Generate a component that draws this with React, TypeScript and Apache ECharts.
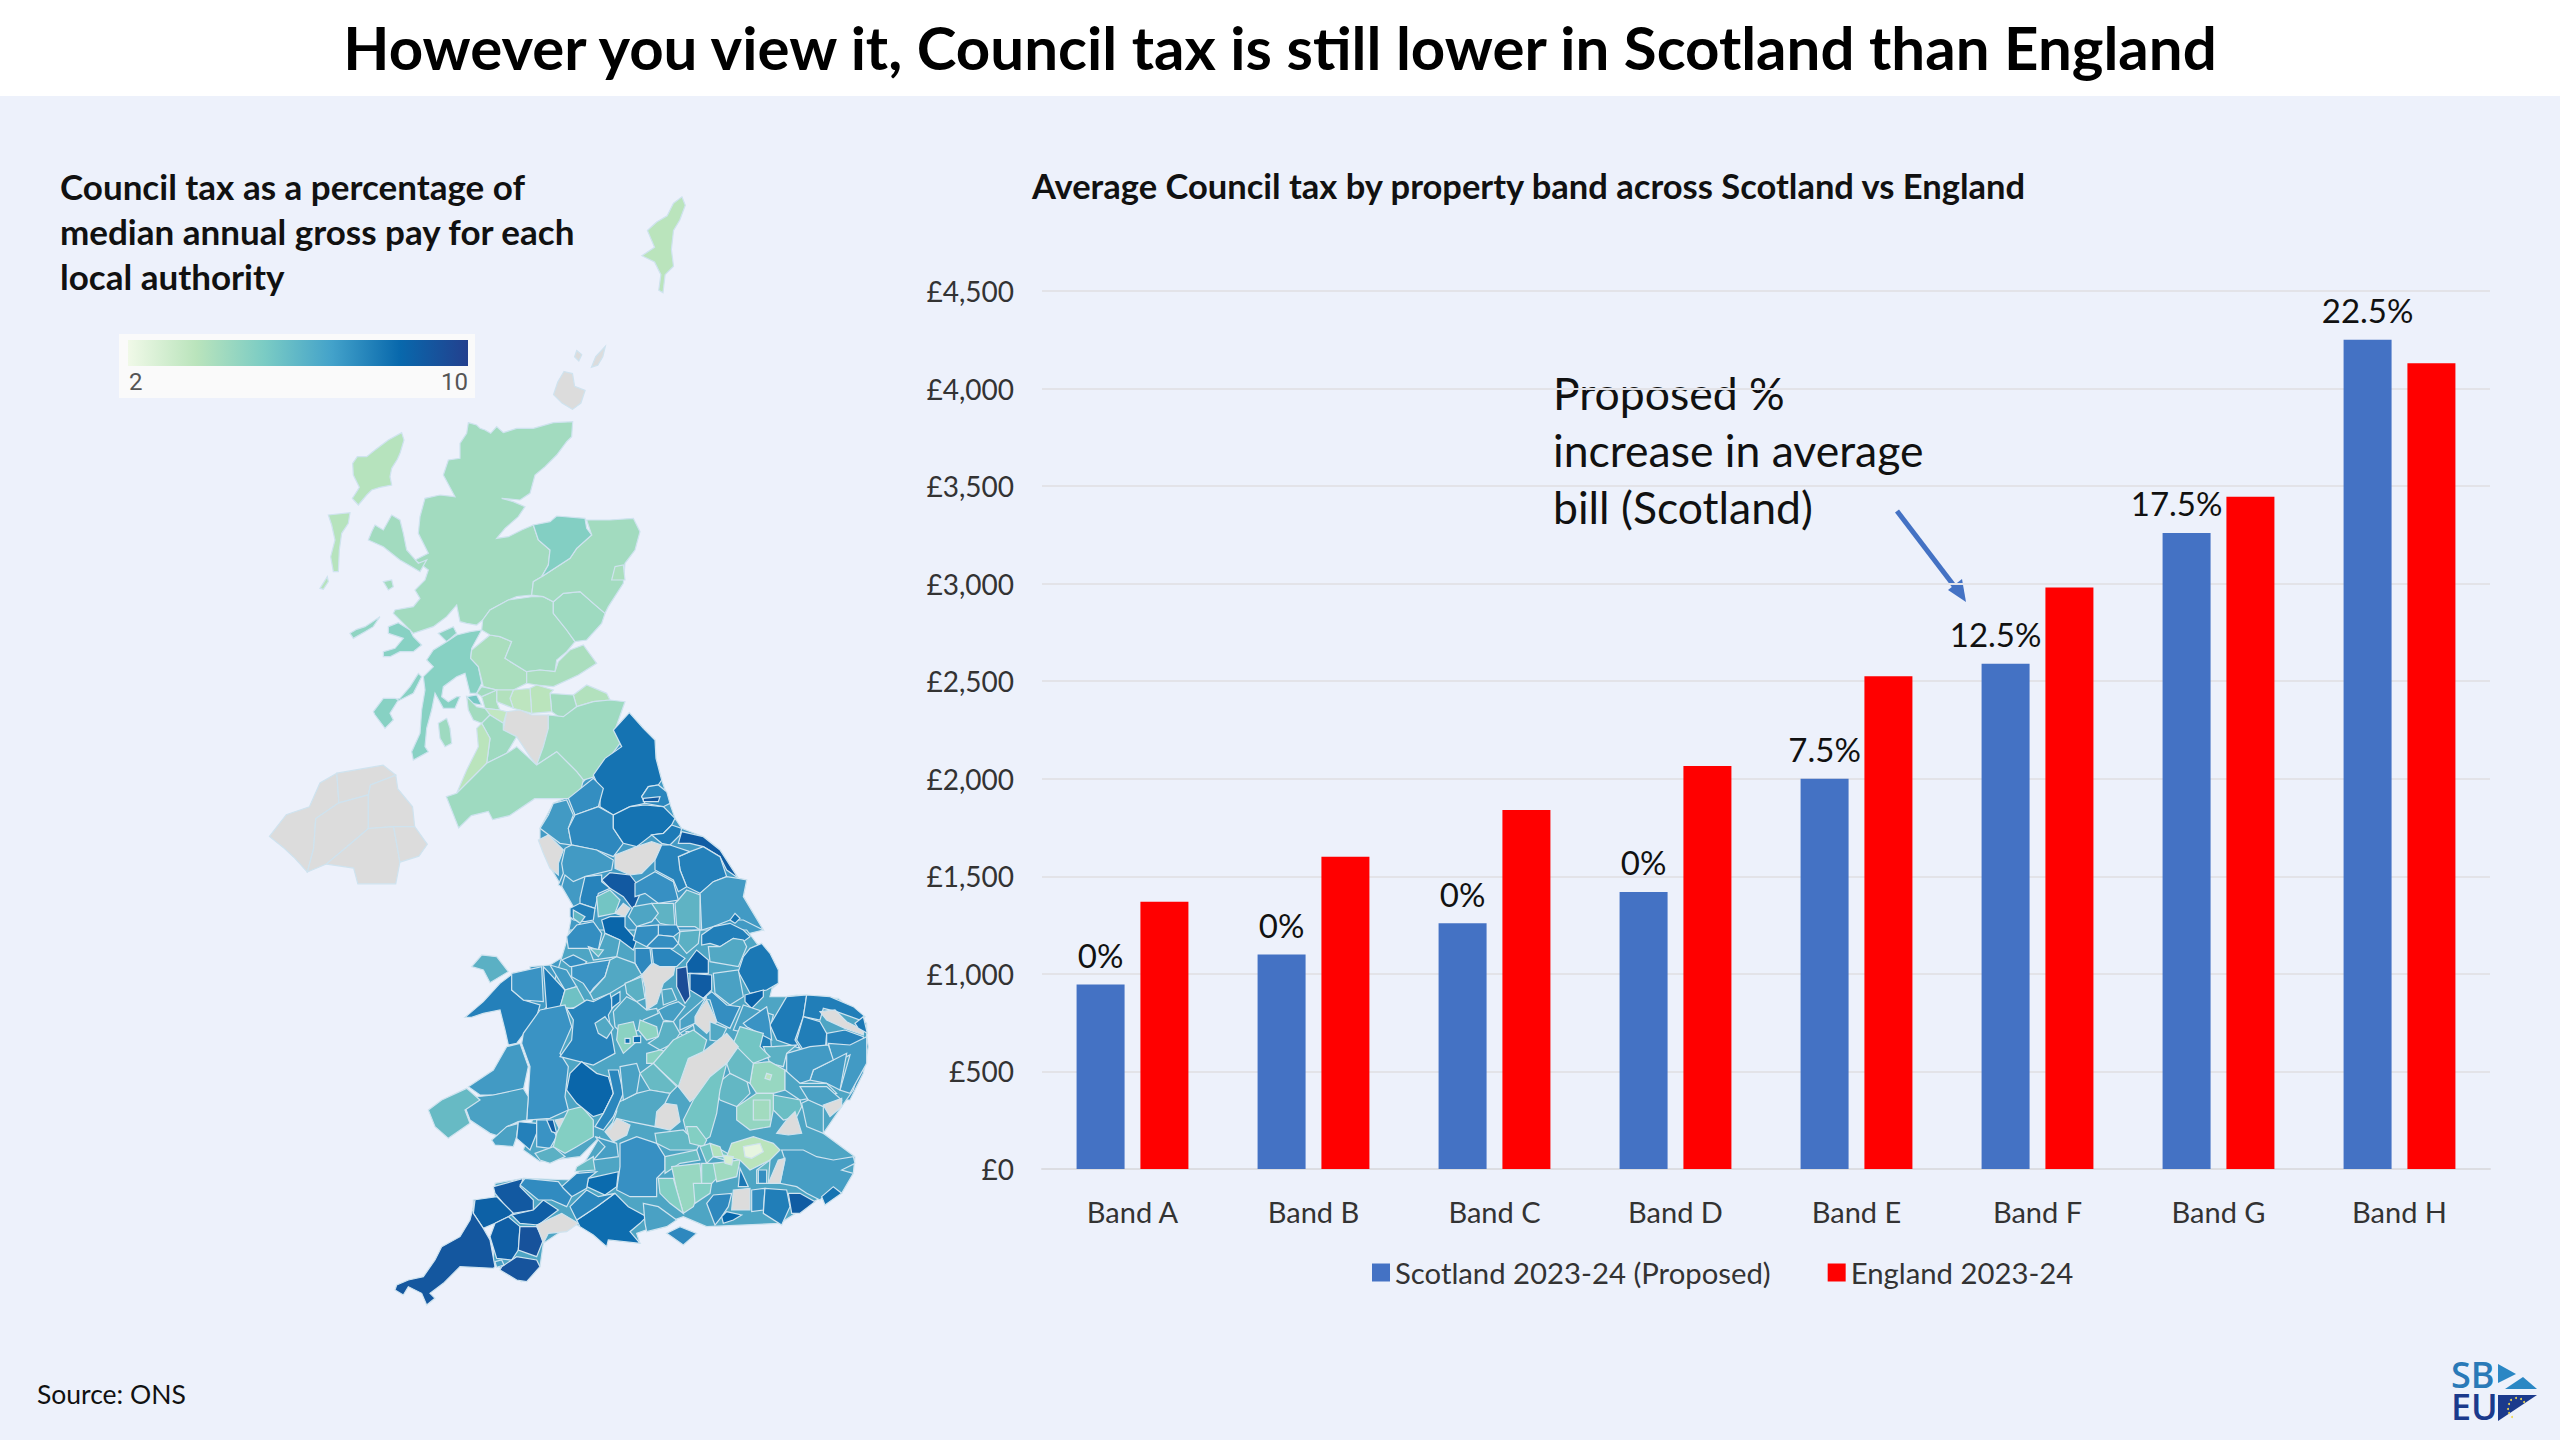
import React, { useEffect, useRef } from "react";
import * as echarts from "echarts";

const BANDS = ["Band A", "Band B", "Band C", "Band D", "Band E", "Band F", "Band G", "Band H"];
const SCOTLAND_VALUES = [945, 1100, 1260, 1420, 2000, 2590, 3260, 4250];
const ENGLAND_VALUES = [1370, 1600, 1840, 2065, 2525, 2980, 3445, 4130];
const INCREASE_LABELS = ["0%", "0%", "0%", "0%", "7.5%", "12.5%", "17.5%", "22.5%"];
const LABEL_NUDGE = [0, 0, 0, 0, 0, -10, -10, 0];
const FONT = "Lato";

type Region = [number | null, number[]];

const ISLES_TRACE: Region[] = [
  [3.6, [1050,40,1058,60,1045,95,1030,120,1025,165,1030,205,1010,225,1005,268,995,262,1000,225,985,195,955,180,985,160,968,120,990,100,1015,85,1030,55]],
  [null, [770,455,790,460,795,490,820,500,810,530,790,545,765,530,745,510,755,480]],
  [null, [800,405,812,415,805,430,795,420]],
  [null, [845,420,868,395,862,420,850,440,835,445]],
];

const NORTHERN_IRELAND_TRACE: Region[] = [
  [null, [70,345,110,290,165,270,190,210,230,185,235,260,180,300,175,375,160,435,130,400,105,375]],
  [null, [230,185,340,165,370,190,310,215,305,240,235,260]],
  [null, [235,260,305,240,305,325,250,375,205,415,160,435,175,375,180,300]],
  [null, [310,215,370,190,375,225,410,270,415,320,365,320,305,325,305,240]],
  [null, [250,375,305,325,365,320,375,380,380,410,370,465,280,465,270,425,205,415]],
  [null, [365,320,415,320,445,365,425,395,380,410,375,380]],
];

const SCOTLAND_TRACE: Region[] = [
  [3.7, [305,98,312,120,300,160,292,178,275,205,270,230,275,255,240,262,215,270,200,285,175,315,157,295,172,272,178,262,160,225,158,190,172,170,200,170,225,150,265,120]],
  [3.7, [85,345,150,338,145,370,125,400,118,450,115,515,100,515,92,470,105,420,95,375]],
  [3.7, [60,565,82,530,85,545,70,568]],
  [4.2, [505,68,530,75,540,85,555,90,572,100,590,80,610,98,650,85,700,85,760,68,818,65,815,110,800,125,770,165,735,200,705,225,690,280,660,300,605,295,640,305,675,320,655,350,615,385,590,415,625,410,665,390,700,375,715,420,750,450,745,495,725,530,700,545,695,585,650,590,625,600,570,630,548,660,530,675,500,670,480,665,470,615,440,650,400,680,340,700,310,670,280,640,285,630,340,620,360,595,345,570,375,540,385,510,345,480,385,460,355,400,360,350,375,295,420,285,465,290,430,225,445,180,480,175,480,130,500,100]],
  [4.2, [225,375,250,390,275,345,300,360,310,400,320,450,355,490,380,480,360,515,335,500,300,480,250,440,205,420,215,395]],
  [4.2, [250,545,275,540,280,560,265,570]],
  [4.7, [150,700,170,688,195,680,240,650,220,680,195,695,160,715]],
  [4.9, [265,680,295,668,330,690,340,710,365,735,340,755,300,755,270,770,250,770,250,755,285,745,310,715,265,700]],
  [4.8, [415,700,460,680,470,700,440,725]],
  [4.9, [380,780,400,750,440,725,470,705,510,695,545,690,515,745,512,775,535,800,545,850,530,880,510,880,495,820,470,830,430,860,425,890,445,905,470,890,480,890,465,925,430,925,405,880,395,930,380,985,375,1040,385,1055,340,1080,335,1055,360,1000,365,930,375,870,370,830,400,800]],
  [4.9, [280,900,300,895,330,860,355,820,365,830,340,880,290,905]],
  [4.9, [220,935,250,895,285,895,295,900,270,940,280,960,255,985,225,945]],
  [4.3, [415,970,440,955,450,985,455,1030,435,1040,420,1015]],
  [5.3, [500,890,530,885,545,915,515,910]],
  [4.0, [515,750,570,705,600,710,635,725,615,775,680,815,680,850,640,870,590,870,550,860,535,800,512,775]],
  [4.2, [548,660,570,630,625,600,695,590,730,590,760,605,760,640,800,690,825,725,800,755,770,780,765,815,720,810,680,815,615,775,635,725,600,710,570,705,545,690]],
  [4.3, [760,605,790,580,840,575,880,610,915,640,905,670,860,720,825,725,800,690,760,640]],
  [4.2, [860,360,930,360,1000,355,1020,395,1005,450,975,490,970,550,925,620,915,640,880,610,840,575,790,580,760,605,730,590,695,585,700,545,725,530,810,475,830,445,875,405]],
  [4.0, [945,500,970,495,975,540,935,540,940,520]],
  [5.0, [700,375,750,365,770,348,855,355,860,385,875,405,830,445,810,475,725,530,745,495,750,450,715,420]],
  [4.0, [765,815,775,785,810,750,850,735,890,790,835,825,760,860,710,855,680,850,680,815,720,810]],
  [3.8, [820,885,860,855,920,880,930,900,880,905,830,920]],
  [4.2, [750,880,820,885,830,920,790,960,755,935]],
  [3.6, [690,865,710,855,760,870,750,880,755,935,695,940]],
  [3.5, [640,870,690,865,695,940,640,925,630,895]],
  [3.8, [590,870,640,870,630,895,640,925,590,905]],
  [4.0, [545,890,590,870,590,905,600,930,555,925]],
  [4.2, [545,860,590,870,545,890,530,880]],
  [null, [620,935,660,930,695,945,745,945,745,985,730,1040,710,1095,690,1070,650,1010,610,990]],
  [3.4, [555,925,600,930,620,935,610,970,570,945]],
  [4.2, [500,890,530,920,555,925,570,945,545,970,520,960,505,930]],
  [4.3, [545,970,570,945,610,970,610,990,650,1010,620,1060,560,1090,570,1015]],
  [3.6, [530,985,545,970,570,1015,560,1090,510,1140,470,1180,500,1110,535,1040]],
  [4.3, [745,945,790,950,830,920,880,905,930,900,975,905,945,990,960,1030,885,1130,850,1140,830,1115,770,1055,710,1095,730,1040,745,985]],
  [4.3, [470,1180,510,1140,560,1090,620,1060,650,1040,710,1095,770,1055,830,1115,850,1140,836,1196,704,1196,628,1247,578,1259,565,1234,514,1247,476,1284,439,1190]],
];

const NORTH_ENGLAND_BASE: Region[] = [
  [6.6, [298,38,340,85,375,120,378,175,395,240,435,355,455,385,520,410,570,450,625,535,650,540,640,590,700,690,660,700,640,700,700,745,745,810,745,850,700,890,650,920,730,940,770,890,800,885,900,890,1000,950,1015,1040,1000,1120,960,1200,0,1200,0,800,60,795,100,770,115,700,130,620,95,560,60,500,30,420,30,385,70,310,115,290,195,210,250,90]],
];

const SOUTH_ENGLAND_BASE: Region[] = [
  [6.3, [270,0,800,0,890,120,870,200,930,200,1075,205,1160,280,1160,340,1120,480,1085,530,1030,610,1125,680,1120,730,1010,810,900,880,680,890,610,860,470,910,480,940,385,930,280,880,190,940,180,1010,125,1055,40,1000,45,760,130,745,280,750,330,670,360,620,300,680,180,695,130,660,160,560,160,400,130,320,200,230]],
];

const NORTH_ENGLAND_TRACE: Region[] = [
  [8.0, [298,38,340,85,375,120,378,175,395,240,385,255,355,260,335,290,345,310,300,320,250,345,210,320,210,270,190,225,225,175,275,140,250,90]],
  [7.0, [190,235,220,265,205,320,135,345,115,295]],
  [6.6, [70,310,110,300,130,345,115,385,125,435,90,430,30,385,55,345]],
  [7.2, [135,345,205,320,250,345,250,385,280,430,250,470,200,450,125,435,115,385]],
  [8.0, [250,345,300,320,345,315,400,320,435,355,425,375,400,400,365,405,320,440,280,430,250,385]],
  [7.3, [355,260,385,255,410,275,420,310,400,320,345,310,335,290]],
  [9.0, [340,295,390,290,385,305,340,305]],
  [null, [25,420,55,405,100,450,85,490,85,525,60,505,40,460]],
  [6.6, [95,490,105,445,125,435,200,450,250,480,245,510,165,530,130,545,105,525,95,560,85,555,100,520]],
  [null, [255,465,320,440,365,425,395,435,375,480,335,520,300,525,255,505]],
  [7.7, [425,375,455,385,450,405,420,435,395,430,365,405,400,400]],
  [8.9, [455,395,520,410,570,450,625,535,590,510,570,470,520,440,480,430,445,430]],
  [7.5, [480,455,520,440,570,470,590,530,550,545,510,580,470,560,450,510,445,470]],
  [7.4, [395,435,420,435,480,455,445,470,450,510,470,560,445,575,430,540,375,510,375,480]],
  [6.6, [510,580,550,545,590,530,625,535,650,540,640,590,700,690,640,660,600,660,550,680,515,690]],
  [9.0, [215,540,240,518,300,525,335,570,310,630,280,590,240,565]],
  [7.4, [150,595,165,530,215,525,215,545,240,565,205,580,195,625,150,610]],
  [5.4, [200,590,240,570,270,600,255,640,205,650]],
  [null, [255,640,280,610,300,625,285,650]],
  [7.6, [120,625,150,610,195,625,190,660,165,665,130,660,120,650]],
  [5.8, [130,630,165,650,150,670,130,655]],
  [6.9, [315,550,375,515,430,545,445,600,385,610,345,580,315,590]],
  [5.9, [470,570,510,585,510,690,495,680,440,680,435,610,445,600]],
  [5.9, [365,610,430,610,435,680,390,670,365,640]],
  [6.3, [310,620,365,610,385,640,365,665,320,680,295,650]],
  [7.2, [385,675,440,675,450,695,430,710,385,705]],
  [6.0, [450,695,510,690,505,730,470,760,445,730]],
  [7.6, [515,705,550,680,600,670,640,690,660,710,640,725,610,715,570,740,540,730,515,735]],
  [8.0, [600,660,615,640,630,655,615,670]],
  [7.8, [660,745,695,730,720,760,745,810,745,850,710,870,660,880,625,815,640,770]],
  [8.6, [645,885,700,870,700,890,665,925,645,905]],
  [6.2, [535,740,570,740,610,715,640,720,650,740,625,800,540,785]],
  [6.4, [550,820,625,810,640,890,600,915,555,880]],
  [8.7, [470,790,500,750,535,780,535,820,470,820]],
  [8.9, [480,820,545,825,545,870,520,895,480,870]],
  [9.5, [440,805,470,800,480,890,465,910,440,860]],
  [7.0, [520,895,545,875,590,915,630,920,600,985,560,965,540,900]],
  [null, [495,950,530,900,560,965,530,1000,495,970]],
  [null, [335,820,370,790,390,800,435,800,430,825,400,850,380,910,350,930,345,860]],
  [8.5, [215,660,240,650,285,650,285,680,320,720,310,750,270,720,225,700]],
  [7.0, [110,710,140,675,190,665,215,700,205,750,170,745,135,745,115,745]],
  [6.3, [175,740,205,750,225,700,270,720,260,770,190,780]],
  [5.5, [180,745,220,750,205,770]],
  [7.0, [320,680,385,675,385,705,350,740,310,720]],
  [7.0, [385,705,430,710,445,730,430,745,365,745,350,740]],
  [7.2, [315,745,360,745,365,790,335,825,315,790]],
  [7.3, [365,745,420,745,465,775,440,800,390,800,370,790]],
  [7.0, [95,780,130,765,170,785,160,800,120,800]],
  [6.8, [125,800,170,790,240,780,225,830,190,865,180,880,160,850,125,830]],
  [6.2, [240,780,260,770,315,790,335,825,290,850,240,880,190,900,180,880,225,830]],
  [6.0, [285,850,335,830,345,895,320,905,290,880]],
  [7.4, [110,925,130,925,170,900,190,905,240,880,250,920,235,945,255,1060,190,1095,90,1070,125,1020,130,960]],
  [7.8, [245,890,270,875,270,905,245,925]],
  [6.2, [250,935,290,890,320,905,350,930,380,925,385,940,340,960,325,990,285,1010,255,980]],
  [6.2, [195,970,225,950,250,985,230,1015,205,1000]],
  [4.8, [265,975,310,965,325,1020,280,1060,260,1020]],
  [8.2, [285,1015,300,1015,300,1030,285,1030]],
  [8.2, [310,1010,332,1008,332,1028,310,1028]],
  [4.7, [330,960,380,980,385,1010,350,1020,325,990]],
  [6.2, [395,870,425,865,440,900,400,915]],
  [6.5, [385,930,415,915,445,905,465,920,430,965,400,960]],
  [6.4, [450,960,490,925,530,890,495,950,495,970,450,990]],
  [6.2, [450,1000,490,975,495,1000,475,1020]],
  [8.8, [468,995,490,995,485,1012,472,1012]],
  [6.0, [400,965,430,965,450,1000,430,1030,390,1050,355,1030,385,1010]],
  [4.8, [350,1060,390,1050,430,1060,410,1090,350,1090]],
  [6.4, [640,915,730,945,720,985,680,980,655,1000,610,990]],
  [6.2, [540,965,590,985,570,1025,540,1020]],
  [7.7, [720,975,770,890,830,885,820,950,795,1020,810,1045,740,1020]],
  [7.6, [830,885,900,890,970,920,1005,950,990,960,920,935,880,925,870,960,820,950]],
  [null, [870,935,915,930,950,965,1000,990,1000,1005,945,985,890,960]],
  [7.8, [975,970,1000,950,1012,1000,985,985]],
  [7.6, [800,1020,820,950,870,965,890,1000,885,1060,820,1050]],
  [7.4, [890,1000,945,990,1000,1010,1000,1040,950,1060,890,1060]],
  [7.6, [660,1040,720,985,725,1055,700,1060]],
];

const WEST_TRACE: Region[] = [
  [6.0, [275,110,305,75,350,80,385,125,330,158,310,120]],
  [7.5, [255,262,310,215,360,160,400,130,395,180,430,210,480,225,470,260,410,340,385,345,375,300,360,240,310,250,275,262]],
  [6.8, [395,130,485,110,490,215,430,210,395,180]],
  [7.8, [490,110,555,180,540,235,500,240]],
  [6.6, [510,105,560,120,590,170,555,180]],
  [5.5, [555,180,590,170,620,225,570,235,540,230]],
  [6.8, [480,240,555,225,575,290,540,370,565,410,555,500,565,540,510,565,440,570,445,490,450,410,425,340,430,310]],
  [6.6, [265,470,340,420,380,350,420,340,445,410,430,480,340,495,300,495]],
  [6.4, [290,500,340,495,430,475,445,500,440,570,415,575,380,590,360,620,330,610,270,570,255,530]],
  [5.7, [145,540,185,510,260,475,300,510,255,540,270,580,205,625,165,590]],
  [6.4, [335,630,380,590,415,580,410,620,400,650,345,645]],
  [7.5, [415,575,470,580,470,610,450,660,410,625]],
  [6.8, [470,570,505,570,530,620,510,655,470,650]],
  [6.0, [465,670,520,650,555,680,510,700,480,690]],
  [8.8, [500,570,520,570,530,610,515,605]],
  [null, [525,570,550,565,555,610,540,600]],
  [5.0, [565,540,605,530,640,570,640,620,590,650,555,670,520,650,530,610]],
  [9.0, [340,770,430,745,420,770,460,810,460,840,400,850,370,820,345,790]],
  [8.7, [280,810,350,800,370,820,400,850,385,860,345,880,310,895,280,850]],
  [8.8, [395,855,460,840,490,810,535,840,475,885,420,880]],
  [8.8, [345,880,385,860,420,890,415,960,395,990,350,985,330,920]],
  [9.3, [420,890,470,890,490,930,470,980,415,960]],
  [9.2, [365,1010,410,980,470,990,480,1010,440,1055,410,1050,360,1020]],
  [6.5, [345,995,365,990,372,1005,350,1012]],
  [null, [470,885,545,850,595,880,560,905,505,910,490,940]],
  [9.1, [285,810,280,850,310,895,330,930,345,1010,340,1015,240,1010,190,1060,150,1090,165,1105,140,1125,125,1090,85,1070,70,1095,45,1080,50,1065,85,1050,130,1040,165,990,185,950,240,920,270,870]],
];

const SOUTH_EAST_TRACE: Region[] = [
  [6.6, [1045,340,1110,345,1160,320,1160,400,1110,490,1080,480,1110,375,1060,400]],
  [6.6, [1000,420,1060,390,1100,370,1080,480,1040,460,990,450]],
  [6.6, [920,370,990,350,1045,345,1060,390,1000,420,990,450,960,460,920,430]],
  [6.0, [880,350,950,345,920,370,910,410,870,400,850,350]],
  [6.8, [790,280,860,230,870,280,875,330,800,290]],
  [5.4, [780,290,850,310,840,350,870,380,820,400,790,380,760,340]],
  [4.5, [820,400,870,395,915,420,915,480,880,490,830,490,810,460]],
  [3.5, [860,430,875,435,870,450,855,445]],
  [6.3, [915,420,960,460,1040,460,1070,490,1020,500,960,510,915,480]],
  [6.4, [960,470,1040,470,1085,510,1030,530,1000,520,985,510]],
  [null, [1030,525,1085,505,1085,530,1050,560]],
  [6.2, [985,510,1030,530,1030,610,980,590,965,520]],
  [5.6, [880,495,960,510,965,530,950,560,910,570,880,540]],
  [null, [920,570,945,545,965,610,925,615,890,610]],
  [4.6, [770,530,830,490,880,490,880,540,870,590,810,600,770,570]],
  [4.2, [820,510,870,510,870,570,820,570]],
  [5.8, [700,470,750,430,800,450,810,490,770,530,720,510]],
  [5.7, [770,350,820,400,810,460,750,430,740,400]],
  [null, [595,470,625,385,670,365,740,310,775,350,740,400,690,440,660,490,630,515]],
  [5.4, [580,330,640,300,680,330,670,365,625,385,595,470,540,420,520,400]],
  [5.7, [480,430,520,400,540,420,590,470,570,490,510,480]],
  [5.4, [640,510,690,440,740,400,720,480,710,550,690,620,660,640,620,610,610,570]],
  [null, [525,590,530,545,555,520,590,525,600,575,570,600]],
  [null, [375,605,410,565,450,585,440,615,400,635]],
  [6.2, [410,520,470,490,510,480,570,490,555,520,530,545,525,590,450,575,410,565,390,600,410,545]],
  [8.5, [260,480,270,430,305,395,350,430,385,440,400,490,370,550,340,560,290,520]],
  [7.3, [385,420,415,420,430,490,400,560,370,600,345,590,370,550,400,490]],
  [6.4, [420,410,470,400,480,430,470,490,430,510]],
  [5.8, [525,610,610,600,620,610,660,640,650,660,570,660,530,640]],
  [5.0, [620,590,650,590,680,630,670,650,630,640]],
  [6.5, [345,620,410,640,415,680,340,690,375,650]],
  [5.7, [290,710,340,680,340,690,345,720,285,725]],
  [6.9, [420,640,470,620,530,640,555,680,555,720,530,745,530,800,450,800,410,780,420,710]],
  [5.6, [555,680,650,660,660,690,600,700,555,730]],
  [5.4, [660,650,690,640,760,680,735,690,700,680,680,700]],
  [4.5, [575,710,660,700,665,760,640,830,610,850,590,780]],
  [5.0, [535,745,580,745,590,780,610,850,570,820,540,790]],
  [5.0, [640,760,695,760,690,790,645,820]],
  [4.9, [665,700,720,700,710,745,695,760,665,760]],
  [4.3, [700,700,780,690,770,740,710,755]],
  [3.6, [755,640,820,620,880,640,900,660,870,690,810,720,780,690,740,680]],
  [2.3, [790,650,840,640,850,665,815,685,795,680]],
  [3.8, [690,640,720,650,730,680,700,680]],
  [2.8, [730,675,760,680,755,705,735,700]],
  [6.5, [905,660,970,660,1010,680,1060,690,1120,680,1125,700,1085,720,1120,730,1085,790,1050,780,1020,810,980,790,950,770,900,760,915,690]],
  [null, [895,690,915,685,900,760,865,760]],
  [5.8, [830,720,870,690,865,760,830,760]],
  [7.8, [780,715,805,770,775,770]],
  [7.0, [835,720,860,720,860,760,835,760]],
  [null, [760,780,810,775,810,840,755,840]],
  [7.2, [680,820,700,795,755,790,745,830,725,860,705,885]],
  [8.4, [725,860,740,845,785,855,760,870,730,880]],
  [7.0, [815,780,855,775,850,840,815,845]],
  [7.6, [855,775,920,780,930,830,905,885,850,850]],
  [8.9, [925,790,960,790,1005,815,960,850,935,850]],
  [8.0, [1025,800,1060,770,1085,790,1035,825]],
  [8.2, [290,870,350,830,405,790,445,830,500,860,480,880,450,905,480,940,385,930,380,950,340,915,300,890]],
  [7.3, [270,830,320,780,355,800,405,790,350,830,290,870]],
  [8.3, [325,745,415,725,410,770,375,795,320,770]],
  [7.4, [245,770,290,730,350,725,325,745,320,775,275,800]],
  [6.4, [490,820,535,830,590,870,560,890,500,905,495,880]],
  [7.2, [560,910,600,890,650,910,610,945]],
  [7.1, [120,765,135,745,235,755,250,775,275,800,260,830,215,810,175,810]],
];

const FRAMES = {
  isles: { ox: 240, oy: 180, sx: 2.376, sy: 2.376 },
  ni: { ox: 240, oy: 700, sx: 2.376, sy: 2.529 },
  scotland: { ox: 300, oy: 400, sx: 3, sy: 3 },
  north: { ox: 530, oy: 700, sx: 3, sy: 3 },
  west: { ox: 380, oy: 930, sx: 3, sy: 3 },
  southEast: { ox: 480, oy: 930, sx: 3, sy: 3 },
};

function toFeatures(list: Region[], prefix: string, f: { ox: number; oy: number; sx: number; sy: number }) {
  return list.map(([value, trace], i) => {
    const ring: number[][] = [];
    for (let k = 0; k + 1 < trace.length; k += 2) {
      ring.push([f.ox + trace[k] / f.sx, -(f.oy + trace[k + 1] / f.sy)]);
    }
    ring.push(ring[0]);
    return {
      name: prefix + i,
      value,
      feature: { type: "Feature", properties: { name: prefix + i }, geometry: { type: "Polygon", coordinates: [ring] } },
    };
  });
}

export default function App() {
  const ref = useRef<HTMLDivElement>(null);
  useEffect(() => {
    document.body.style.margin = "0";
    const regions = [
      ...toFeatures(NORTH_ENGLAND_BASE, "bn", FRAMES.north),
      ...toFeatures(SOUTH_ENGLAND_BASE, "bs", FRAMES.southEast),
      ...toFeatures(ISLES_TRACE, "isl", FRAMES.isles),
      ...toFeatures(SCOTLAND_TRACE, "sct", FRAMES.scotland),
      ...toFeatures(NORTHERN_IRELAND_TRACE, "ni", FRAMES.ni),
      ...toFeatures(WEST_TRACE, "w", FRAMES.west),
      ...toFeatures(NORTH_ENGLAND_TRACE, "n", FRAMES.north),
      ...toFeatures(SOUTH_EAST_TRACE, "se", FRAMES.southEast),
    ];
    echarts.registerMap("uk", { type: "FeatureCollection", features: regions.map((r) => r.feature) } as any);
    const chart = echarts.init(ref.current!, null, { renderer: "svg" });
    const txt = (x: number, y: number, text: string, style: any) => ({
      type: "text", x, y, silent: true, style: { text, fontFamily: FONT, fill: "#111", ...style },
    });
    const stars = [[2511,1400],[2516,1398],[2521,1399],[2524,1402],[2509,1404],[2508,1409],[2509,1413],[2512,1417]];
    chart.setOption({
      animation: false,
      backgroundColor: "#edf1fb",
      textStyle: { fontFamily: FONT },
      title: [
        { text: "However you view it, Council tax is still lower in Scotland than England", left: "center", top: 12,
          textStyle: { fontFamily: FONT, fontSize: 60, fontWeight: 700, color: "#000" } },
        { text: "Council tax as a percentage of\nmedian annual gross pay for each\nlocal authority", left: 55, top: 158,
          textStyle: { fontFamily: FONT, fontSize: 35, fontWeight: 700, color: "#111", lineHeight: 45 } },
        { text: "Average Council tax by property band across Scotland vs England", left: 1027, top: 158,
          textStyle: { fontFamily: FONT, fontSize: 34.5, fontWeight: 700, color: "#111", lineHeight: 45 } },
      ],
      grid: { left: 1042, right: 70, top: 291, bottom: 271, containLabel: false },
      xAxis: {
        type: "category", data: BANDS,
        axisTick: { show: false },
        axisLine: { lineStyle: { color: "#dcdde2", width: 2 } },
        axisLabel: { fontFamily: FONT, fontSize: 29, color: "#333", margin: 28 },
      },
      yAxis: {
        type: "value", min: 0, max: 4500, interval: 500,
        axisLine: { show: false }, axisTick: { show: false },
        splitLine: { lineStyle: { color: "#e3e3e8", width: 2 } },
        axisLabel: { fontFamily: FONT, fontSize: 28, color: "#333", margin: 28,
          formatter: (v: number) => "£" + v.toLocaleString("en-GB") },
      },
      legend: {
        bottom: 148, left: 1367, data: ["Scotland 2023-24 (Proposed)", "England 2023-24"],
        icon: "rect", itemWidth: 18, itemHeight: 18, itemGap: 57,
        textStyle: { fontFamily: FONT, fontSize: 29.3, color: "#333" },
      },
      visualMap: {
        show: false, type: "continuous", min: 2, max: 10, seriesIndex: 0,
        inRange: { color: ["#f0f9e8", "#bae4bc", "#7bccc4", "#3a93c4", "#0868ac", "#23408e"] },
      },
      series: [
        {
          type: "map", map: "uk", silent: true, aspectScale: 1, showLegendSymbol: false,
          left: 0, top: 0, width: 2560, height: 1440,
          boundingCoords: [[0, 0], [2560, -1440]],
          label: { show: false },
          itemStyle: { areaColor: "#dcdcdc", borderColor: "#cfe3ef", borderWidth: 1.2 },
          data: regions.filter((r) => r.value !== null).map((r) => ({ name: r.name, value: r.value })),
        },
        {
          name: "Scotland 2023-24 (Proposed)", type: "bar", barWidth: 48, barGap: "33%",
          data: SCOTLAND_VALUES.map((value, i) => ({ value, label: { offset: [LABEL_NUDGE[i], 0] } })),
          itemStyle: { color: "#4472c4" },
          label: { show: true, position: "top", distance: 13, fontFamily: FONT, fontSize: 33, color: "#111",
            formatter: (p: any) => INCREASE_LABELS[p.dataIndex] },
        },
        { name: "England 2023-24", type: "bar", data: ENGLAND_VALUES, barWidth: 48, itemStyle: { color: "#ff0000" } },
      ],
      graphic: [
        { type: "rect", shape: { x: 0, y: 0, width: 2560, height: 96 }, style: { fill: "#ffffff" }, silent: true, z: -10 },
        { type: "rect", shape: { x: 119, y: 334, width: 356, height: 64 }, style: { fill: "#fafafa" }, silent: true },
        { type: "rect", shape: { x: 128, y: 340, width: 340, height: 26 }, silent: true,
          style: { fill: new echarts.graphic.LinearGradient(0, 0, 1, 0, [
            { offset: 0, color: "#f0f9e8" }, { offset: 0.2, color: "#bae4bc" }, { offset: 0.4, color: "#7bccc4" },
            { offset: 0.6, color: "#43a2ca" }, { offset: 0.8, color: "#0868ac" }, { offset: 1, color: "#23408e" } ]) } },
        txt(129, 370, "2", { fontFamily: "Roboto", fontSize: 24, fill: "#555" }),
        txt(468, 370, "10", { fontFamily: "Roboto", fontSize: 24, fill: "#555", textAlign: "right" }),
        txt(1553, 364, "Proposed %\nincrease in average\nbill (Scotland)", { fontSize: 44.5, lineHeight: 57, fill: "#111" }),
        { type: "line", shape: { x1: 1897, y1: 511, x2: 1958, y2: 591 }, style: { stroke: "#4472c4", lineWidth: 5 }, silent: true },
        { type: "polygon", shape: { points: [[1966, 602], [1948, 590], [1962, 579]] }, style: { fill: "#4472c4" }, silent: true },
        txt(37, 1380, "Source: ONS", { fontSize: 26.5, fill: "#111" }),
        txt(2451, 1356, "SB", { fontFamily: "Open Sans", fontSize: 36, fontWeight: 600, fill: "#2a7ab8" }),
        txt(2451, 1388, "EU", { fontFamily: "Open Sans", fontSize: 36, fontWeight: 600, fill: "#1b3a8c" }),
        { type: "polygon", shape: { points: [[2498, 1364], [2516, 1374], [2498, 1383]] }, style: { fill: "#2a87c4" }, silent: true },
        { type: "polygon", shape: { points: [[2505, 1389], [2523, 1377], [2537, 1389]] }, style: { fill: "#2a87c4" }, silent: true },
        { type: "polygon", shape: { points: [[2498, 1395], [2537, 1395], [2498, 1421]] }, style: { fill: "#1b3a8c" }, silent: true },
        ...stars.map(([cx, cy]) => ({ type: "circle", shape: { cx, cy, r: 1 }, style: { fill: "#f2d94e" }, silent: true })),
      ],
    });
    return () => chart.dispose();
  }, []);
  return <div ref={ref} style={{ position: "absolute", left: 0, top: 0, width: 2560, height: 1440 }} />;
}
